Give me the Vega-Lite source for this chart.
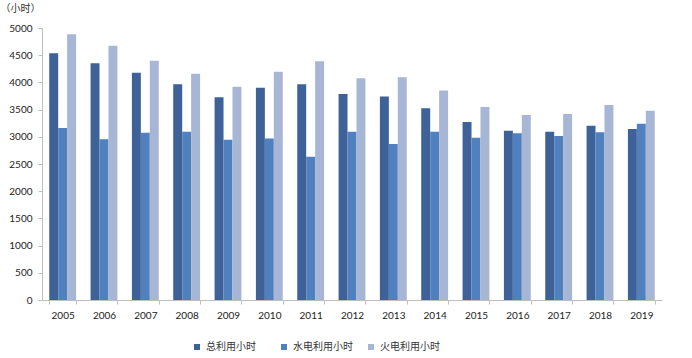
{
  "$schema": "https://vega.github.io/schema/vega-lite/v6.json",
  "width": 620,
  "height": 272,
  "autosize": "none",
  "padding": {"left": 42, "top": 28, "right": 30, "bottom": 58},
  "background": "white",
  "config": {
    "view": {"stroke": null},
    "font": "Lato, Noto Sans CJK SC",
    "axis": {"labelFont": "Lato, Noto Sans CJK SC", "titleFont": "Noto Sans CJK SC"},
    "legend": {"labelFont": "Noto Sans CJK SC"}
  },
  "data": {
    "values": [
      {"year": "2005", "type": "总利用小时", "hours": 4535},
      {"year": "2005", "type": "水电利用小时", "hours": 3162},
      {"year": "2005", "type": "火电利用小时", "hours": 4884},
      {"year": "2006", "type": "总利用小时", "hours": 4351},
      {"year": "2006", "type": "水电利用小时", "hours": 2953},
      {"year": "2006", "type": "火电利用小时", "hours": 4675},
      {"year": "2007", "type": "总利用小时", "hours": 4179},
      {"year": "2007", "type": "水电利用小时", "hours": 3076},
      {"year": "2007", "type": "火电利用小时", "hours": 4400},
      {"year": "2008", "type": "总利用小时", "hours": 3964},
      {"year": "2008", "type": "水电利用小时", "hours": 3094},
      {"year": "2008", "type": "火电利用小时", "hours": 4161},
      {"year": "2009", "type": "总利用小时", "hours": 3725},
      {"year": "2009", "type": "水电利用小时", "hours": 2947},
      {"year": "2009", "type": "火电利用小时", "hours": 3922},
      {"year": "2010", "type": "总利用小时", "hours": 3903},
      {"year": "2010", "type": "水电利用小时", "hours": 2971},
      {"year": "2010", "type": "火电利用小时", "hours": 4198},
      {"year": "2011", "type": "总利用小时", "hours": 3964},
      {"year": "2011", "type": "水电利用小时", "hours": 2634},
      {"year": "2011", "type": "火电利用小时", "hours": 4387},
      {"year": "2012", "type": "总利用小时", "hours": 3787},
      {"year": "2012", "type": "水电利用小时", "hours": 3094},
      {"year": "2012", "type": "火电利用小时", "hours": 4074},
      {"year": "2013", "type": "总利用小时", "hours": 3743},
      {"year": "2013", "type": "水电利用小时", "hours": 2867},
      {"year": "2013", "type": "火电利用小时", "hours": 4093},
      {"year": "2014", "type": "总利用小时", "hours": 3523},
      {"year": "2014", "type": "水电利用小时", "hours": 3094},
      {"year": "2014", "type": "火电利用小时", "hours": 3853},
      {"year": "2015", "type": "总利用小时", "hours": 3271},
      {"year": "2015", "type": "水电利用小时", "hours": 2984},
      {"year": "2015", "type": "火电利用小时", "hours": 3547},
      {"year": "2016", "type": "总利用小时", "hours": 3112},
      {"year": "2016", "type": "水电利用小时", "hours": 3063},
      {"year": "2016", "type": "火电利用小时", "hours": 3400},
      {"year": "2017", "type": "总利用小时", "hours": 3094},
      {"year": "2017", "type": "水电利用小时", "hours": 3014},
      {"year": "2017", "type": "火电利用小时", "hours": 3419},
      {"year": "2018", "type": "总利用小时", "hours": 3204},
      {"year": "2018", "type": "水电利用小时", "hours": 3082},
      {"year": "2018", "type": "火电利用小时", "hours": 3584},
      {"year": "2019", "type": "总利用小时", "hours": 3143},
      {"year": "2019", "type": "水电利用小时", "hours": 3241},
      {"year": "2019", "type": "火电利用小时", "hours": 3479}
    ]
  },
  "mark": {"type": "bar"},
  "encoding": {
    "x": {
      "field": "year",
      "type": "nominal",
      "sort": null,
      "scale": {"paddingInner": 0.35, "paddingOuter": 0.175},
      "axis": {
        "title": null,
        "labelAngle": 0,
        "labelFontSize": 10,
        "labelColor": "#222222",
        "labelPadding": 6,
        "domainColor": "#bfbfbf",
        "tickColor": "#bfbfbf",
        "tickBand": "extent",
        "tickSize": 4,
        "grid": false
      }
    },
    "xOffset": {
      "field": "type",
      "type": "nominal",
      "sort": ["总利用小时", "水电利用小时", "火电利用小时"],
      "scale": {"paddingInner": 0, "paddingOuter": 0}
    },
    "y": {
      "field": "hours",
      "type": "quantitative",
      "scale": {"domain": [0, 5000], "nice": false},
      "axis": {
        "title": "（小时）",
        "titleAngle": 0,
        "titleAlign": "left",
        "titleBaseline": "middle",
        "titleX": -42,
        "titleY": -20,
        "titleFontSize": 10,
        "titleFontWeight": "normal",
        "titleColor": "#333333",
        "values": [0, 500, 1000, 1500, 2000, 2500, 3000, 3500, 4000, 4500, 5000],
        "format": "d",
        "labelFontSize": 10,
        "labelColor": "#222222",
        "labelPadding": 6,
        "domainColor": "#bfbfbf",
        "tickColor": "#bfbfbf",
        "tickSize": 4,
        "grid": false
      }
    },
    "color": {
      "field": "type",
      "type": "nominal",
      "sort": ["总利用小时", "水电利用小时", "火电利用小时"],
      "scale": {
        "domain": ["总利用小时", "水电利用小时", "火电利用小时"],
        "range": ["#3e6297", "#5080be", "#a8b6d5"]
      },
      "legend": {
        "title": null,
        "orient": "none",
        "direction": "horizontal",
        "legendX": 150,
        "legendY": 314,
        "symbolType": "square",
        "symbolSize": 36,
        "symbolStrokeWidth": 0,
        "labelFontSize": 10,
        "labelColor": "#333333",
        "gridAlign": "all",
        "columnPadding": 13,
        "labelOffset": 4
      }
    }
  }
}
